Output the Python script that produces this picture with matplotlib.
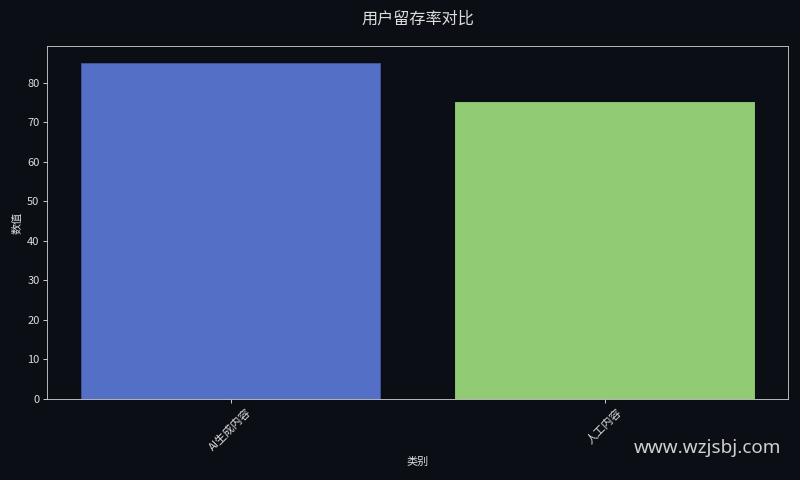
import matplotlib
matplotlib.use('Agg')
from matplotlib import pyplot as plt

categories = ['AI生成内容', '人工内容']
values = [85, 75]
bar_colors = ['#5470c6', '#91cc75']

plt.rcParams['font.family'] = ['Noto Sans CJK SC', 'DejaVu Sans']
bg = '#0b0e14'
txt = '#dddddd'

fig, ax = plt.subplots(figsize=(10, 6), dpi=80)
fig.patch.set_facecolor(bg)
ax.set_facecolor(bg)

ax.bar(categories, values, width=0.8, color=bar_colors,
       edgecolor=['#3e5599', '#91cc75'], linewidth=0.8)

ax.set_title('用户留存率对比', color=txt, fontsize=14.5, pad=20)
ax.set_xlabel('类别', color=txt, fontsize=10)
ax.set_ylabel('数值', color=txt, fontsize=10)
ax.tick_params(colors=txt, labelsize=10)
plt.setp(ax.get_xticklabels(), rotation=45)
for s in ax.spines.values():
    s.set_color('#c8c8c8')

fig.text(0.884, 0.067, 'www.wzjsbj.com', color='#d0d0d0', fontsize=17,
         ha='center', va='center', family=['Noto Sans', 'DejaVu Sans'])

fig.subplots_adjust(left=0.059, right=0.985, top=0.904, bottom=0.169)
fig.savefig('out.png', facecolor=bg)
